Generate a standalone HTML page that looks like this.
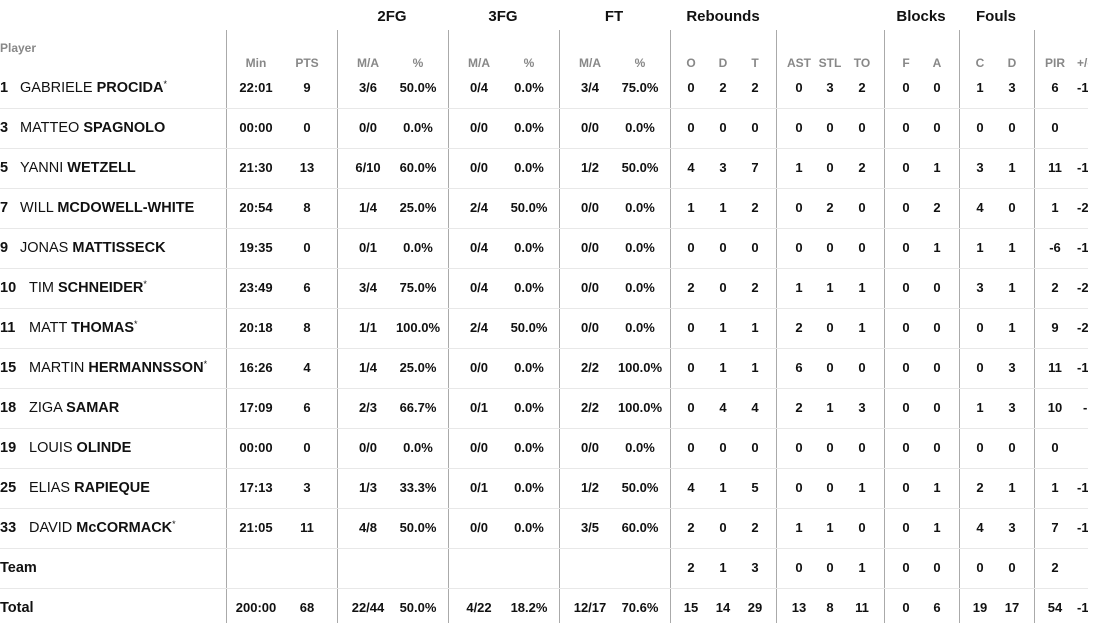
<!DOCTYPE html>
<html><head><meta charset="utf-8"><style>
body{margin:0;width:1096px;height:623px;background:#fff;overflow:hidden;font-family:"Liberation Sans",sans-serif;color:#111;}
#w{position:relative;width:1088px;height:623px;overflow:hidden;}
.v{position:absolute;top:30px;bottom:0;width:1px;background:#aaa;}
.h{position:absolute;left:0;width:1088px;height:1px;background:#e8e8e8;}
.g{position:absolute;top:8px;font-size:15px;font-weight:bold;transform:translateX(-50%);}
.r{position:absolute;left:0;width:1088px;height:20px;font-size:13px;font-weight:bold;}
.r span{position:absolute;top:0;width:60px;margin-left:-30px;text-align:center;line-height:20px;}
.r span.pm{margin-left:0;text-align:left;}
.r .n{position:absolute;left:0;top:0;line-height:20px;font-size:14.5px;font-weight:normal;white-space:nowrap;}
.s{color:#888;font-size:12px;}
.r span:nth-child(2){left:256px}.r span:nth-child(3){left:307px}.r span:nth-child(4){left:368px}.r span:nth-child(5){left:418px}
.r span:nth-child(6){left:479px}.r span:nth-child(7){left:529px}.r span:nth-child(8){left:590px}.r span:nth-child(9){left:640px}
.r span:nth-child(10){left:691px}.r span:nth-child(11){left:723px}.r span:nth-child(12){left:755px}.r span:nth-child(13){left:799px}
.r span:nth-child(14){left:830px}.r span:nth-child(15){left:862px}.r span:nth-child(16){left:906px}.r span:nth-child(17){left:937px}
.r span:nth-child(18){left:980px}.r span:nth-child(19){left:1012px}.r span:nth-child(20){left:1055px}.r span:nth-child(21){left:1077px}
.nm i{font-style:normal;display:inline-block;font-weight:bold;}
.nm b{font-weight:bold}
.nm em{font-style:normal;font-size:9px;position:relative;top:-5px;line-height:0;}
</style></head><body><div id="w">
<div class="g" style="left:392px">2FG</div><div class="g" style="left:503px">3FG</div><div class="g" style="left:614px">FT</div>
<div class="g" style="left:723px">Rebounds</div><div class="g" style="left:921px">Blocks</div><div class="g" style="left:996px">Fouls</div>
<div class="v" style="left:226px"></div><div class="v" style="left:337px"></div><div class="v" style="left:448px"></div><div class="v" style="left:559px"></div><div class="v" style="left:670px"></div><div class="v" style="left:776px"></div><div class="v" style="left:884px"></div><div class="v" style="left:959px"></div><div class="v" style="left:1034px"></div>
<div class="h" style="top:108px"></div><div class="h" style="top:148px"></div><div class="h" style="top:188px"></div><div class="h" style="top:228px"></div><div class="h" style="top:268px"></div><div class="h" style="top:308px"></div><div class="h" style="top:348px"></div><div class="h" style="top:388px"></div><div class="h" style="top:428px"></div><div class="h" style="top:468px"></div><div class="h" style="top:508px"></div><div class="h" style="top:548px"></div><div class="h" style="top:588px"></div>
<div style="position:absolute;left:0;top:41px;font-size:12px;font-weight:bold;color:#888">Player</div>
<div class="r s" style="top:53px"><b></b><span>Min</span><span>PTS</span><span>M/A</span><span>%</span><span>M/A</span><span>%</span><span>M/A</span><span>%</span><span>O</span><span>D</span><span>T</span><span>AST</span><span>STL</span><span>TO</span><span>F</span><span>A</span><span>C</span><span>D</span><span>PIR</span><span class="pm">+/-</span></div>
<div class="r" style="top:78px"><b class="n nm"><i style="width:20px">1</i>GABRIELE <b>PROCIDA</b><em>*</em></b><span>22:01</span><span>9</span><span>3/6</span><span>50.0%</span><span>0/4</span><span>0.0%</span><span>3/4</span><span>75.0%</span><span>0</span><span>2</span><span>2</span><span>0</span><span>3</span><span>2</span><span>0</span><span>0</span><span>1</span><span>3</span><span>6</span><span class="pm">-1</span></div>
<div class="r" style="top:118px"><b class="n nm"><i style="width:20px">3</i>MATTEO <b>SPAGNOLO</b></b><span>00:00</span><span>0</span><span>0/0</span><span>0.0%</span><span>0/0</span><span>0.0%</span><span>0/0</span><span>0.0%</span><span>0</span><span>0</span><span>0</span><span>0</span><span>0</span><span>0</span><span>0</span><span>0</span><span>0</span><span>0</span><span>0</span><span class="pm"></span></div>
<div class="r" style="top:158px"><b class="n nm"><i style="width:20px">5</i>YANNI <b>WETZELL</b></b><span>21:30</span><span>13</span><span>6/10</span><span>60.0%</span><span>0/0</span><span>0.0%</span><span>1/2</span><span>50.0%</span><span>4</span><span>3</span><span>7</span><span>1</span><span>0</span><span>2</span><span>0</span><span>1</span><span>3</span><span>1</span><span>11</span><span class="pm">-1</span></div>
<div class="r" style="top:198px"><b class="n nm"><i style="width:20px">7</i>WILL <b>MCDOWELL-WHITE</b></b><span>20:54</span><span>8</span><span>1/4</span><span>25.0%</span><span>2/4</span><span>50.0%</span><span>0/0</span><span>0.0%</span><span>1</span><span>1</span><span>2</span><span>0</span><span>2</span><span>0</span><span>0</span><span>2</span><span>4</span><span>0</span><span>1</span><span class="pm">-2</span></div>
<div class="r" style="top:238px"><b class="n nm"><i style="width:20px">9</i>JONAS <b>MATTISSECK</b></b><span>19:35</span><span>0</span><span>0/1</span><span>0.0%</span><span>0/4</span><span>0.0%</span><span>0/0</span><span>0.0%</span><span>0</span><span>0</span><span>0</span><span>0</span><span>0</span><span>0</span><span>0</span><span>1</span><span>1</span><span>1</span><span>-6</span><span class="pm">-1</span></div>
<div class="r" style="top:278px"><b class="n nm"><i style="width:29px">10</i>TIM <b>SCHNEIDER</b><em>*</em></b><span>23:49</span><span>6</span><span>3/4</span><span>75.0%</span><span>0/4</span><span>0.0%</span><span>0/0</span><span>0.0%</span><span>2</span><span>0</span><span>2</span><span>1</span><span>1</span><span>1</span><span>0</span><span>0</span><span>3</span><span>1</span><span>2</span><span class="pm">-2</span></div>
<div class="r" style="top:318px"><b class="n nm"><i style="width:29px">11</i>MATT <b>THOMAS</b><em>*</em></b><span>20:18</span><span>8</span><span>1/1</span><span>100.0%</span><span>2/4</span><span>50.0%</span><span>0/0</span><span>0.0%</span><span>0</span><span>1</span><span>1</span><span>2</span><span>0</span><span>1</span><span>0</span><span>0</span><span>0</span><span>1</span><span>9</span><span class="pm">-2</span></div>
<div class="r" style="top:358px"><b class="n nm"><i style="width:29px">15</i>MARTIN <b>HERMANNSSON</b><em>*</em></b><span>16:26</span><span>4</span><span>1/4</span><span>25.0%</span><span>0/0</span><span>0.0%</span><span>2/2</span><span>100.0%</span><span>0</span><span>1</span><span>1</span><span>6</span><span>0</span><span>0</span><span>0</span><span>0</span><span>0</span><span>3</span><span>11</span><span class="pm">-1</span></div>
<div class="r" style="top:398px"><b class="n nm"><i style="width:29px">18</i>ZIGA <b>SAMAR</b></b><span>17:09</span><span>6</span><span>2/3</span><span>66.7%</span><span>0/1</span><span>0.0%</span><span>2/2</span><span>100.0%</span><span>0</span><span>4</span><span>4</span><span>2</span><span>1</span><span>3</span><span>0</span><span>0</span><span>1</span><span>3</span><span>10</span><span class="pm" style="margin-left:6px">-</span></div>
<div class="r" style="top:438px"><b class="n nm"><i style="width:29px">19</i>LOUIS <b>OLINDE</b></b><span>00:00</span><span>0</span><span>0/0</span><span>0.0%</span><span>0/0</span><span>0.0%</span><span>0/0</span><span>0.0%</span><span>0</span><span>0</span><span>0</span><span>0</span><span>0</span><span>0</span><span>0</span><span>0</span><span>0</span><span>0</span><span>0</span><span class="pm"></span></div>
<div class="r" style="top:478px"><b class="n nm"><i style="width:29px">25</i>ELIAS <b>RAPIEQUE</b></b><span>17:13</span><span>3</span><span>1/3</span><span>33.3%</span><span>0/1</span><span>0.0%</span><span>1/2</span><span>50.0%</span><span>4</span><span>1</span><span>5</span><span>0</span><span>0</span><span>1</span><span>0</span><span>1</span><span>2</span><span>1</span><span>1</span><span class="pm">-1</span></div>
<div class="r" style="top:518px"><b class="n nm"><i style="width:29px">33</i>DAVID <b>McCORMACK</b><em>*</em></b><span>21:05</span><span>11</span><span>4/8</span><span>50.0%</span><span>0/0</span><span>0.0%</span><span>3/5</span><span>60.0%</span><span>2</span><span>0</span><span>2</span><span>1</span><span>1</span><span>0</span><span>0</span><span>1</span><span>4</span><span>3</span><span>7</span><span class="pm">-1</span></div>
<div class="r" style="top:558px"><b class="n" style="font-weight:bold">Team</b><span></span><span></span><span></span><span></span><span></span><span></span><span></span><span></span><span>2</span><span>1</span><span>3</span><span>0</span><span>0</span><span>1</span><span>0</span><span>0</span><span>0</span><span>0</span><span>2</span><span class="pm"></span></div>
<div class="r" style="top:598px"><b class="n" style="font-weight:bold">Total</b><span>200:00</span><span>68</span><span>22/44</span><span>50.0%</span><span>4/22</span><span>18.2%</span><span>12/17</span><span>70.6%</span><span>15</span><span>14</span><span>29</span><span>13</span><span>8</span><span>11</span><span>0</span><span>6</span><span>19</span><span>17</span><span>54</span><span class="pm">-1</span></div>
</div></body></html>
